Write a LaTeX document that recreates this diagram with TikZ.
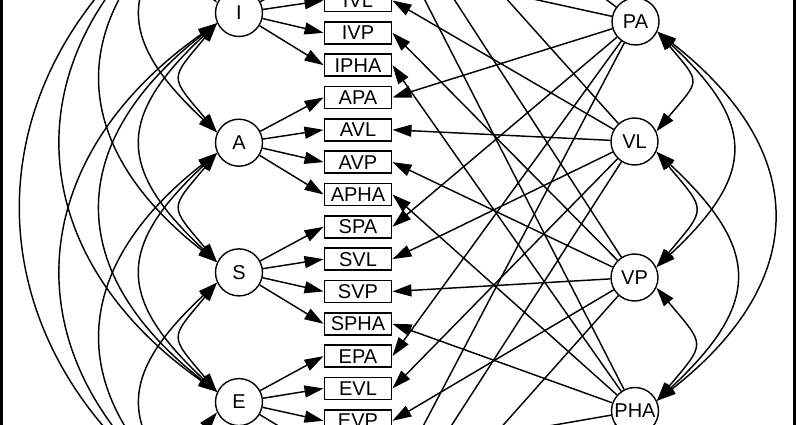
\documentclass[tikz,border=0pt]{standalone}
\usepackage{fontspec}
\setmainfont{Liberation Sans}
\usetikzlibrary{arrows.meta}
\begin{document}
\begin{tikzpicture}[x=1pt,y=-1pt,
  lat/.style={circle,draw,line width=1.4pt,minimum size=47pt,inner sep=0pt,fill=white,font=\fontsize{20}{20}\selectfont},
  obs/.style={rectangle,draw,line width=1.9pt,minimum width=67pt,minimum height=22pt,inner sep=0pt,fill=white,font=\fontsize{20}{20}\selectfont},
  big/.tip={Triangle[length=19pt,width=12pt]},
  ld/.style={line width=1.45pt,-big},
  cov/.style={line width=1.45pt,big-big},
  rim/.style={line width=2.6pt}
]
\useasboundingbox (0,0) rectangle (796,425);
\clip (0,0) rectangle (796,425);

% method factors
\node[lat] (I) at (239,13) {I};
\node[lat] (A) at (239,142.7) {A};
\node[lat] (S) at (239,272.4) {S};
\node[lat] (E) at (239,402.1) {E};
% ports of the method factors above and below the frame
\coordinate (Xlo) at (217.3,-106.6);
\coordinate (Yup) at (217.3,521.7);

% trait factors
\node[lat] (PA) at (635.5,21.5) {PA};
\node[lat] (VL) at (634.5,141.5) {VL};
\node[lat] (VP) at (634.5,277.5) {VP};
\node[lat] (PHA) at (635,411) {PHA};

% indicators
\foreach \n [count=\k from 0] in {IPA,IVL,IVP,IPHA,APA,AVL,AVP,APHA,SPA,SVL,SVP,SPHA,EPA,EVL,EVP,EPHA}
  \node[obs] (\n) at (358,{0.5+(\k-1)*32.33}) {\n};
% indicators above and below the frame (right edges)
\foreach \t [count=\j from 0] in {PA,VL,VP,PHA} {
  \coordinate (X\t) at (392,{-161.15+\j*32.33});
  \coordinate (Y\t) at (392,{485.45+\j*32.33});
}

% loadings of the method factors
\foreach \m in {I,A,S,E}
  \foreach \t in {PA,VL,VP,PHA}
    \draw[ld] (\m) -- (\m\t.west);

% loadings of the trait factors
\foreach \t in {PA,VL,VP,PHA} {
  \draw[ld] (\t) -- (X\t);
  \foreach \m in {I,A,S,E}
    \draw[ld] (\t) -- (\m\t.east);
  \draw[ld] (\t) -- (Y\t);
}

% covariances of the method factors (left)
\draw[cov] (Xlo)   .. controls +(-47.9,57.1) and +(-47.9,-57.1) .. (I.155);
\draw[cov] (I.205) .. controls +(-47.9,57.1) and +(-47.9,-57.1) .. (A.155);
\draw[cov] (A.205) .. controls +(-47.9,57.1) and +(-47.9,-57.1) .. (S.155);
\draw[cov] (S.205) .. controls +(-47.9,57.1) and +(-47.9,-57.1) .. (E.155);
\draw[cov] (E.205) .. controls +(-47.9,57.1) and +(-47.9,-57.1) .. (Yup);

\draw[cov] (Xlo)   .. controls +(-100.5,93.7) and +(-100.5,-93.7) .. (A.155);
\draw[cov] (I.205) .. controls +(-100.5,93.7) and +(-100.5,-93.7) .. (S.155);
\draw[cov] (A.205) .. controls +(-100.5,93.7) and +(-100.5,-93.7) .. (E.155);
\draw[cov] (S.205) .. controls +(-100.5,93.7) and +(-100.5,-93.7) .. (Yup);

\draw[cov] (Xlo)   .. controls +(-153.3,119.8) and +(-153.3,-119.8) .. (S.155);
\draw[cov] (I.205) .. controls +(-153.3,119.8) and +(-153.3,-119.8) .. (E.155);
\draw[cov] (A.205) .. controls +(-153.3,119.8) and +(-153.3,-119.8) .. (Yup);

\draw[cov] (Xlo)   .. controls +(-206,144.2) and +(-206,-144.2) .. (E.155);
\draw[cov] (I.205) .. controls +(-206,144.2) and +(-206,-144.2) .. (Yup);

\draw[cov] (Xlo)   .. controls +(-258.8,168) and +(-258.8,-168) .. (Yup);

% covariances of the trait factors (right)
\draw[cov] (PA.-25) .. controls +(44.1,52.6) and +(44.1,-52.6) .. (VL.25);
\draw[cov] (VL.-25) .. controls +(50.4,60.1) and +(50.4,-60.1) .. (VP.25);
\draw[cov] (VP.-25) .. controls +(49.3,58.8) and +(49.3,-58.8) .. (PHA.25);
\draw[cov] (PA.-25) .. controls +(99.4,92.7) and +(99.4,-92.7) .. (VP.25);
\draw[cov] (VL.-25) .. controls +(104.7,97.6) and +(104.7,-97.6) .. (PHA.25);
\draw[cov] (PA.-25) .. controls +(153.7,120.1) and +(153.7,-120.1) .. (PHA.25);

% frame edges
\draw[rim] (1.3,0) -- (1.3,425);
\draw[rim] (794.7,0) -- (794.7,425);
\end{tikzpicture}
\end{document}
